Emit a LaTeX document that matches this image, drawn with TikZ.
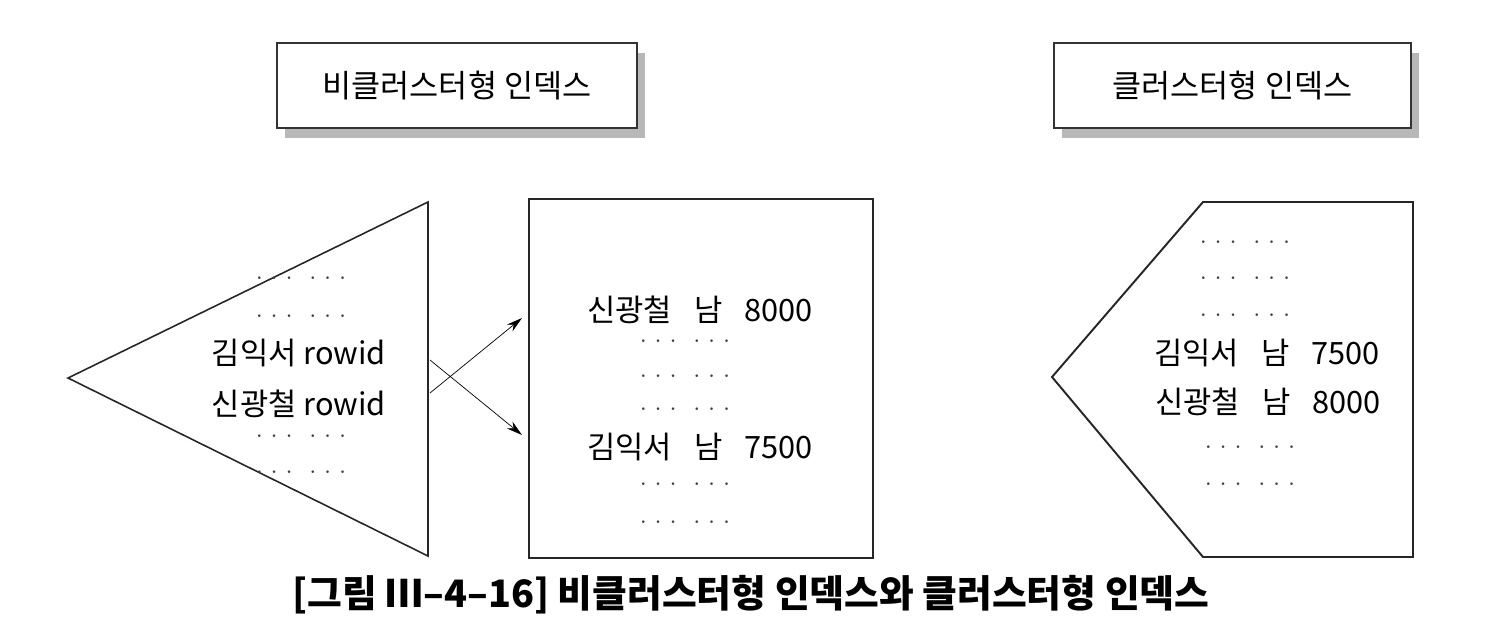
\documentclass[tikz,border=0pt]{standalone}
\usepackage{fontspec}
\setmainfont{Noto Sans CJK KR}
\usetikzlibrary{arrows.meta,positioning,shadows}

\newcommand{\onedot}{\makebox[8.5pt]{$\cdot$}}
\newcommand{\dotrow}{\onedot\onedot\onedot\hspace{5pt}\onedot\onedot\onedot}
\newcommand{\rec}[3]{#1\hspace{12.5pt}#2\hspace{12.5pt}#3}

\begin{document}
\begin{tikzpicture}[x=0.02cm, y=-0.02cm,
    titlebox/.style={draw=black!80, line width=1.1pt, fill=white,
      minimum height=1.7cm, font=\fontsize{18}{22}\selectfont,
      drop shadow={shadow xshift=0.16cm, shadow yshift=-0.2cm, fill=black!28, opacity=1}},
    row/.style={inner sep=0pt, font=\fontsize{17.5}{21}\selectfont},
    dots/.style={inner sep=0pt, text=black!75, font=\Large},
    edge/.style={draw=black!85, line width=0.9pt}]
    \useasboundingbox (0,0) rectangle (1500,630);

    \node(nctitle) [titlebox, minimum width=7.2cm]  at (457,85.5)  {비클러스터형 인덱스};
    \node(ctitle)  [titlebox, minimum width=7.14cm] at (1232.5,85.5) {클러스터형 인덱스};

    \coordinate (ntip) at (68,378);
    \coordinate (ntop) at (428,202);
    \coordinate (nbot) at (428,556);
    \draw [edge] (ntip) -- (ntop) -- (nbot) -- cycle;

    \node(nd1) [dots] at (301,279) {\dotrow};
    \node(nd2) [dots] at (301,317) {\dotrow};
    \node(nk)  [row]  at (299,353) {김익서 rowid};
    \node(ns)  [row]  at (299,404) {신광철 rowid};
    \node(nd3) [dots] at (301,437) {\dotrow};
    \node(nd4) [dots] at (301,473) {\dotrow};

    \node(tbl) [edge, line width=1.1pt, minimum width=6.88cm, minimum height=7.18cm] at (701,378.5) {};
    \node(ts)  [row]  at (700,310) {\rec{신광철}{남}{8000}};
    \node(td1) [dots] at (685,342) {\dotrow};
    \node(td2) [dots] at (685,377) {\dotrow};
    \node(td3) [dots] at (685,410) {\dotrow};
    \node(tk)  [row]  at (700,447) {\rec{김익서}{남}{7500}};
    \node(td4) [dots] at (685,485) {\dotrow};
    \node(td5) [dots] at (685,523) {\dotrow};

    \coordinate (ck1) at (430,360);
    \coordinate (cs1) at (430,393);
    \coordinate (tk1) at (522,435);
    \coordinate (ts1) at (522,318);
    \draw [-{Stealth[length=9pt,width=5pt]}][draw=black] (ck1) to (tk1);
    \draw [-{Stealth[length=9pt,width=5pt]}][draw=black] (cs1) to (ts1);

    \coordinate (ctip) at (1052,377);
    \coordinate (ctl)  at (1203,202);
    \coordinate (ctr)  at (1413,202);
    \coordinate (cbr)  at (1413,557);
    \coordinate (cbl)  at (1203,557);
    \draw [edge, line width=1.1pt] (ctip) -- (ctl) -- (ctr) -- (cbr) -- (cbl) -- cycle;

    \node(cd1) [dots] at (1245,243) {\dotrow};
    \node(cd2) [dots] at (1245,279) {\dotrow};
    \node(cd3) [dots] at (1245,316) {\dotrow};
    \node(ck)  [row]  at (1267,353) {\rec{김익서}{남}{7500}};
    \node(cs)  [row]  at (1268,402) {\rec{신광철}{남}{8000}};
    \node(cd4) [dots] at (1250,448) {\dotrow};
    \node(cd5) [dots] at (1250,485) {\dotrow};

    \node(cap) at (751,595) {\fontsize{21.5}{25}\selectfont\bfseries [그림 Ⅲ–4–16] 비클러스터형 인덱스와 클러스터형 인덱스};

  \end{tikzpicture}
\end{document}
